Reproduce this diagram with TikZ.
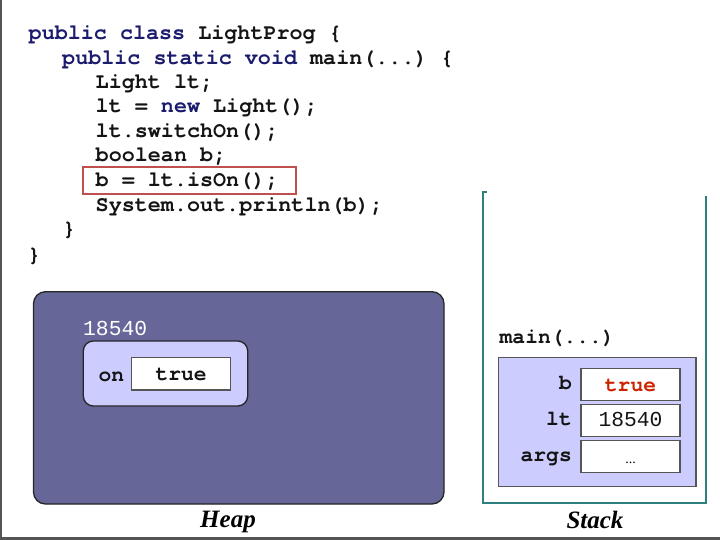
\documentclass[tikz,border=0pt]{standalone}
\usepackage{fontspec}
\setmainfont{Liberation Serif}
\setmonofont{texgyrecursor}[Extension=.otf,UprightFont=*-regular,BoldFont=*-bold,ItalicFont=*-italic,BoldItalicFont=*-bolditalic]
\newfontfamily\numfont{Liberation Mono}
\definecolor{kw}{RGB}{28,28,110}
\definecolor{txt}{RGB}{20,20,20}
\definecolor{heapfill}{RGB}{102,102,153}
\definecolor{objfill}{RGB}{204,204,255}
\definecolor{hl}{RGB}{192,80,77}
\definecolor{teal}{RGB}{45,128,125}
\definecolor{redv}{RGB}{204,34,0}
\definecolor{frameg}{RGB}{85,85,85}
\begin{document}
\begin{tikzpicture}[x=1pt,y=-1pt,
  code/.style={anchor=base west,inner sep=0pt,font=\ttfamily\bfseries\fontsize{21.75}{26}\selectfont,text=txt},
  dtext/.style={inner sep=0pt,font=\ttfamily\bfseries\fontsize{21.3}{26}\selectfont,text=txt},
  ntext/.style={inner sep=0pt,font=\numfont\fontsize{21.3}{26}\selectfont,text=txt},
  valbox/.style={draw=frameg,line width=1.2pt,fill=white},
  caption/.style={inner sep=0pt,anchor=base,font=\rmfamily\bfseries\itshape\fontsize{25}{30}\selectfont,text=black}]
\useasboundingbox (0,0) rectangle (720,540);
\fill[white] (0,0) rectangle (720,540);
% page frame
\fill[frameg] (0,0) rectangle (2,540);
\fill[frameg] (0,537) rectangle (720,540);
% code
\node[code] (c1) at (28.5,40) {\textcolor{kw}{public class} LightProg \{};
\node[code] (c2) at (62,64.5) {\textcolor{kw}{public static void} main(...) \{};
\node[code] (c3) at (95.5,88.5) {Light lt;};
\node[code] (c4) at (95.5,113) {lt = \textcolor{kw}{new} Light();};
\node[code] (c5) at (95.5,137.5) {lt.switchOn();};
\node[code] (c6) at (95.5,162) {boolean b;};
\node[code] (c7) at (95.5,187) {b = lt.isOn();};
\node[code] (c8) at (95.5,211.5) {System.out.println(b);};
\node[code] (c9) at (62.5,236) {\}};
\node[code] (c10) at (27.5,261) {\}};
\draw[hl,line width=1.8pt] (82.7,166.7) rectangle (296,194.3);
% heap
\draw[fill=heapfill,draw=black!85,line width=1.3pt,rounded corners=12pt] (33.5,291.7) rectangle (444,504);
\node[ntext,text=white,anchor=base west] (addr) at (83,335) {18540};
\draw[fill=objfill,draw=black!85,line width=1.3pt,rounded corners=10pt] (83.3,341) rectangle (247.7,406);
\node[dtext,anchor=base west] (on) at (98.5,381) {on};
\draw[valbox] (131.7,357.3) rectangle (230.7,390);
\node[dtext,anchor=base] (onv) at (181.2,380) {true};
\node[caption] (heap) at (228,527) {Heap};
% stack
\draw[teal,line width=2pt] (487,192) -- (483,192) -- (483,502.7) -- (706,502.7) -- (706,196.5);
\node[dtext,anchor=base west] (mainl) at (499.5,343.3) {main(...)};
\draw[fill=objfill,draw=frameg,line width=1.2pt] (498.3,357.3) rectangle (696,486.7);
\draw[valbox] (581,368.3) rectangle (680,400.7);
\draw[valbox] (581,404.3) rectangle (680,436.7);
\draw[valbox] (581,440.3) rectangle (680,472.7);
\node[dtext,anchor=base east] (lb) at (572,389.3) {b};
\node[dtext,anchor=base east] (llt) at (572,425.7) {lt};
\node[dtext,anchor=base east] (largs) at (572,461) {args};
\node[dtext,anchor=base,text=redv] (vb) at (630.5,391) {true};
\node[ntext,anchor=base] (vlt) at (630.5,426.7) {18540};
\node[inner sep=0pt,anchor=base,font=\rmfamily\fontsize{14}{16}\selectfont] (vargs) at (630.5,463) {...};
\node[caption] (stack) at (595,528) {Stack};
\end{tikzpicture}
\end{document}
